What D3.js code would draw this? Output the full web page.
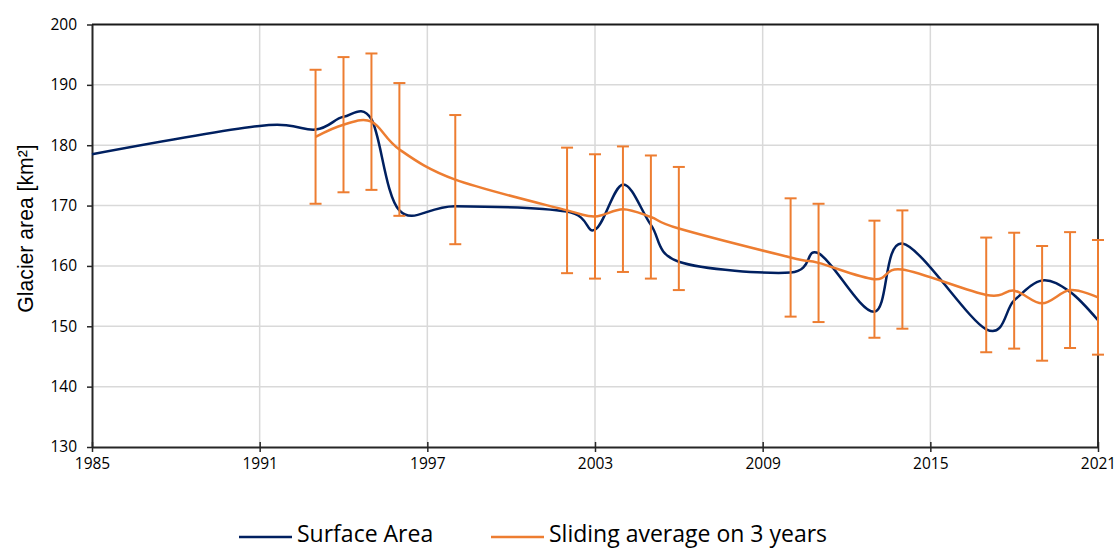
<!DOCTYPE html>
<html>
<head>
<meta charset="utf-8">
<script src="https://cdn.jsdelivr.net/npm/d3@7/dist/d3.min.js"></script>
<style>
  html, body { margin: 0; padding: 0; background: #fff; }
  svg { display: block; }
</style>
</head>
<body>
<svg id="chart" width="1118" height="548"></svg>
<script>
// Glacier surface area by year (km²)
const areaYears  = [1985, 1991, 1993, 1994, 1995, 1996, 1998, 2002, 2003, 2004, 2005, 2006, 2010, 2011, 2013, 2014, 2017, 2018, 2019, 2020, 2021];
const areaValues = [178.5, 183.2, 182.6, 184.7, 184.3, 169.2, 169.9, 169.0, 166.0, 173.5, 166.8, 160.7, 158.9, 162.1, 152.4, 163.7, 149.5, 154.3, 157.6, 155.7, 151.0];

// 3-year sliding average with its uncertainty (± km²)
const avgYears  = [1993, 1994, 1995, 1996, 1998, 2002, 2003, 2004, 2005, 2006, 2010, 2011, 2013, 2014, 2017, 2018, 2019, 2020, 2021];
const avgValues = [181.4, 183.4, 183.9, 179.3, 174.3, 169.2, 168.2, 169.4, 168.1, 166.2, 161.4, 160.5, 157.8, 159.4, 155.2, 155.9, 153.8, 156.0, 154.8];
const avgErrors = [11.1, 11.2, 11.3, 11.0, 10.7, 10.4, 10.3, 10.4, 10.2, 10.2, 9.8, 9.8, 9.7, 9.8, 9.5, 9.6, 9.5, 9.6, 9.5];

const xTicks = [1985, 1991, 1997, 2003, 2009, 2015, 2021];
const yTicks = [130, 140, 150, 160, 170, 180, 190, 200];

const seriesNames = ["Surface Area", "Sliding average on 3 years"];
const colors = { area: "#002060", avg: "#ED7D31" };

const svg = d3.select("#chart");
const plot = { left: 92, right: 1098, top: 24.5, bottom: 447 };

const x = d3.scaleLinear().domain([1985, 2021]).range([plot.left, plot.right]);
const y = d3.scaleLinear().domain([130, 200]).range([plot.bottom, plot.top]);

const textFont = "'Open Sans', 'Noto Sans', sans-serif";

// grid
const grid = svg.append("g");
grid.selectAll("line.h").data(yTicks.filter(d => d > 130 && d < 200)).join("line")
  .attr("x1", plot.left).attr("x2", plot.right)
  .attr("y1", d => y(d)).attr("y2", d => y(d))
  .attr("stroke", "#d9d9d9").attr("stroke-width", 1.5);
grid.selectAll("line.v").data(xTicks.filter(d => d > 1985 && d < 2021)).join("line")
  .attr("x1", d => x(d)).attr("x2", d => x(d))
  .attr("y1", plot.top).attr("y2", plot.bottom)
  .attr("stroke", "#d9d9d9").attr("stroke-width", 1.5);

// plot frame (top and right)
svg.append("path")
  .attr("d", `M${plot.left},${plot.top}H${plot.right}V${plot.bottom}`)
  .attr("fill", "none").attr("stroke", "#1a1a1a").attr("stroke-width", 1.8);

// axes
const xAxis = d3.axisBottom(x).tickValues(xTicks).tickFormat(d3.format("d")).tickSizeInner(5).tickSizeOuter(0).tickPadding(6);
const gx = svg.append("g").attr("transform", `translate(0,${plot.bottom})`).call(xAxis);
gx.select(".domain").attr("stroke", "#262626").attr("stroke-width", 2);
gx.selectAll(".tick line").attr("stroke", "#262626").attr("stroke-width", 1.5).attr("y1", -5);
gx.selectAll(".tick text").attr("font-family", textFont).attr("font-size", 15.5).attr("fill", "#000");

const yAxis = d3.axisLeft(y).tickValues(yTicks).tickSizeInner(5).tickSizeOuter(0).tickPadding(10);
const gy = svg.append("g").attr("transform", `translate(${plot.left},0)`).call(yAxis);
gy.select(".domain").attr("stroke", "#262626").attr("stroke-width", 2);
gy.selectAll(".tick line").attr("stroke", "#262626").attr("stroke-width", 1.5);
gy.selectAll(".tick text").attr("font-family", textFont).attr("font-size", 15.5).attr("fill", "#000");

// y-axis title
svg.append("text")
  .attr("transform", `translate(33,228.5) rotate(-90)`)
  .attr("text-anchor", "middle")
  .attr("font-family", "'Liberation Sans', Arial, sans-serif")
  .attr("font-size", 21.2)
  .attr("fill", "#000")
  .text("Glacier area [km²]");

// smoothed lines (Excel-style Catmull-Rom)
const curve = d3.curveCardinal.tension(0);

const areaData = areaYears.map((yr, i) => ({ yr, v: areaValues[i] }));
const avgData = avgYears.map((yr, i) => ({ yr, v: avgValues[i], e: avgErrors[i] }));

const line = d3.line().x(d => x(d.yr)).y(d => y(d.v)).curve(curve);

svg.append("path").datum(areaData)
  .attr("d", line).attr("fill", "none")
  .attr("stroke", colors.area).attr("stroke-width", 2.5);

// error bars
const eb = svg.append("g").attr("stroke", colors.avg).attr("stroke-width", 2);
eb.selectAll("line.stem").data(avgData).join("line")
  .attr("x1", d => x(d.yr)).attr("x2", d => x(d.yr))
  .attr("y1", d => y(d.v + d.e)).attr("y2", d => y(d.v - d.e));
eb.selectAll("line.top").data(avgData).join("line")
  .attr("x1", d => x(d.yr) - 6).attr("x2", d => x(d.yr) + 6)
  .attr("y1", d => y(d.v + d.e)).attr("y2", d => y(d.v + d.e));
eb.selectAll("line.bot").data(avgData).join("line")
  .attr("x1", d => x(d.yr) - 6).attr("x2", d => x(d.yr) + 6)
  .attr("y1", d => y(d.v - d.e)).attr("y2", d => y(d.v - d.e));

svg.append("path").datum(avgData)
  .attr("d", line).attr("fill", "none")
  .attr("stroke", colors.avg).attr("stroke-width", 2.5);

// legend
const legend = [
  { name: seriesNames[0], color: colors.area, x0: 239 },
  { name: seriesNames[1], color: colors.avg, x0: 491 }
];
const lg = svg.append("g");
legend.forEach(l => {
  lg.append("line").attr("x1", l.x0).attr("x2", l.x0 + 53)
    .attr("y1", 537).attr("y2", 537)
    .attr("stroke", l.color).attr("stroke-width", 2.5);
  lg.append("text").attr("x", l.x0 + 58).attr("y", 542)
    .attr("font-family", textFont).attr("font-size", 23).attr("fill", "#000")
    .text(l.name);
});
</script>
</body>
</html>
